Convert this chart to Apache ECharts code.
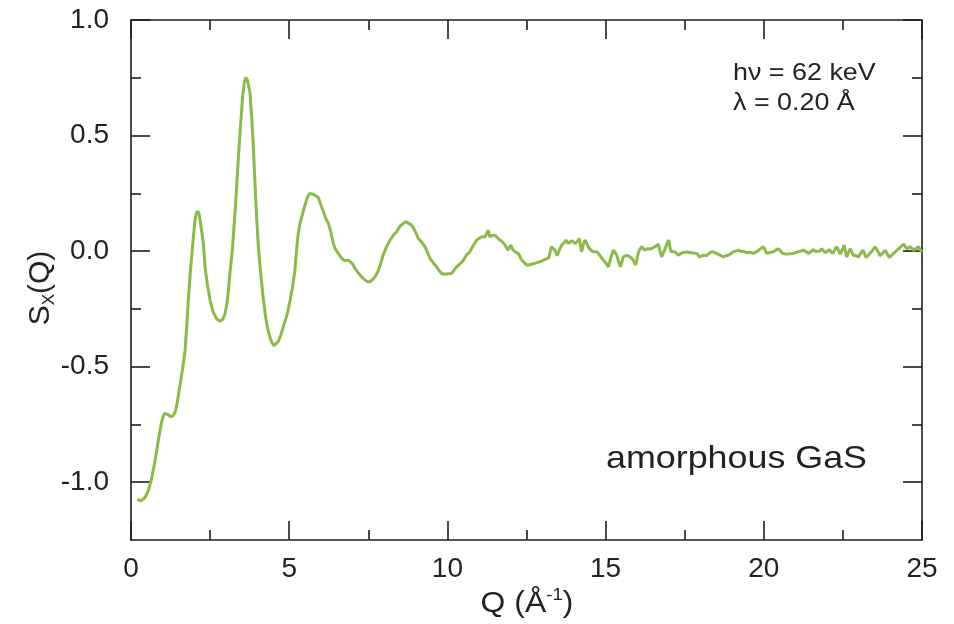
<!DOCTYPE html>
<html><head><meta charset="utf-8">
<script src="https://cdn.jsdelivr.net/npm/echarts@6/dist/echarts.min.js"></script>
<style>html,body{margin:0;padding:0;background:#fff}#c{width:954px;height:624px}</style>
</head><body><div id="c"></div>
<script>
const qValues = [
0.20,0.32,0.45,0.55,0.65,0.75,0.85,0.93,1.00,1.06,1.11,1.18,1.26,1.33,1.40,1.47,1.53,1.58,1.65,1.71,1.76,1.81,1.87,1.92,1.97,2.02,2.07,2.10,2.14,2.19,2.24,2.29,2.34,2.42,2.50,2.60,2.71,2.81,2.90,2.97,3.03,3.08,3.13,3.20,3.30,3.39,3.46,3.53,3.58,3.63,3.68,3.76,3.82,3.87,3.92,3.97,4.02,4.08,4.16,4.24,4.31,4.39,4.45,4.52,4.58,4.66,4.73,4.81,4.92,5.03,5.10,5.18,5.23,5.28,5.34,5.42,5.50,5.58,5.65,5.71,5.78,5.85,5.92,6.00,6.08,6.16,6.24,6.32,6.40,6.45,6.55,6.66,6.76,6.87,6.92,7.00,7.08,7.16,7.24,7.32,7.40,7.48,7.55,7.61,7.66,7.74,7.82,7.90,7.97,8.08,8.19,8.30,8.40,8.50,8.61,8.68,8.77,8.85,8.93,9.00,9.08,9.18,9.29,9.37,9.45,9.55,9.66,9.74,9.82,9.92,10.03,10.13,10.19,10.29,10.40,10.51,10.61,10.71,10.82,10.93,11.00,11.08,11.19,11.24,11.29,11.34,11.42,11.50,11.58,11.66,11.74,11.82,11.92,12.00,12.07,12.14,12.24,12.35,12.43,12.51,12.62,12.72,12.82,12.93,13.02,13.10,13.20,13.29,13.35,13.40,13.47,13.54,13.61,13.68,13.75,13.82,13.93,14.03,14.10,14.17,14.24,14.30,14.35,14.40,14.45,14.53,14.61,14.72,14.80,14.93,15.00,15.09,15.16,15.24,15.30,15.35,15.42,15.47,15.56,15.67,15.77,15.85,15.90,15.95,16.03,16.09,16.14,16.24,16.32,16.40,16.48,16.56,16.67,16.72,16.77,16.88,16.95,17.00,17.04,17.08,17.19,17.30,17.38,17.46,17.56,17.67,17.77,17.88,17.98,18.08,18.19,18.27,18.35,18.43,18.51,18.62,18.72,18.80,18.88,18.96,19.04,19.12,19.20,19.28,19.35,19.46,19.56,19.67,19.75,19.83,19.91,19.99,20.09,20.20,20.30,20.38,20.46,20.53,20.60,20.72,20.82,20.93,21.01,21.09,21.17,21.25,21.33,21.41,21.49,21.57,21.64,21.70,21.77,21.83,21.88,21.94,22.00,22.07,22.12,22.18,22.24,22.30,22.36,22.41,22.48,22.54,22.58,22.62,22.68,22.73,22.78,22.83,22.91,22.99,23.06,23.13,23.18,23.23,23.30,23.36,23.44,23.52,23.60,23.68,23.76,23.84,23.90,23.97,24.04,24.10,24.18,24.26,24.34,24.42,24.47,24.52,24.58,24.63,24.68,24.74,24.80,24.89,24.95,25.00
];
const sValues = [
-1.075,-1.080,-1.065,-1.035,-0.985,-0.915,-0.830,-0.765,-0.720,-0.702,-0.699,-0.708,-0.717,-0.712,-0.695,-0.648,-0.595,-0.555,-0.490,-0.430,-0.330,-0.213,-0.100,-0.020,0.060,0.130,0.170,0.178,0.168,0.130,0.080,0.030,-0.068,-0.150,-0.213,-0.265,-0.293,-0.304,-0.295,-0.271,-0.230,-0.170,-0.090,0.000,0.190,0.396,0.540,0.670,0.730,0.751,0.740,0.686,0.570,0.440,0.290,0.149,0.030,-0.068,-0.180,-0.271,-0.330,-0.372,-0.395,-0.409,-0.405,-0.390,-0.365,-0.329,-0.280,-0.213,-0.160,-0.083,0.000,0.070,0.120,0.160,0.200,0.235,0.250,0.254,0.245,0.238,0.232,0.200,0.171,0.140,0.120,0.080,0.030,0.012,-0.010,-0.032,-0.042,-0.039,-0.035,-0.055,-0.075,-0.090,-0.104,-0.115,-0.126,-0.133,-0.133,-0.128,-0.120,-0.105,-0.083,-0.050,-0.017,0.020,0.048,0.070,0.084,0.108,0.120,0.128,0.120,0.115,0.099,0.080,0.055,0.040,0.019,-0.005,-0.032,-0.050,-0.068,-0.085,-0.097,-0.100,-0.098,-0.097,-0.092,-0.068,-0.055,-0.039,-0.015,-0.003,0.025,0.048,0.055,0.062,0.062,0.075,0.091,0.062,0.068,0.070,0.058,0.048,0.040,0.026,0.004,0.026,0.005,-0.003,-0.010,-0.039,-0.050,-0.061,-0.058,-0.055,-0.050,-0.046,-0.040,-0.035,-0.030,0.019,0.015,0.004,-0.020,0.005,0.026,0.035,0.048,0.033,0.045,0.033,0.040,0.055,-0.003,0.030,0.048,0.035,0.019,0.005,-0.003,-0.003,-0.015,-0.039,-0.050,-0.068,-0.030,0.004,-0.005,-0.018,-0.050,-0.068,-0.025,-0.018,-0.025,-0.035,-0.046,-0.060,-0.010,0.010,0.019,0.004,0.010,0.009,0.013,0.019,0.030,0.000,-0.025,0.010,0.035,0.048,0.010,-0.003,-0.003,-0.018,-0.010,-0.006,-0.004,-0.006,-0.008,-0.010,-0.025,-0.018,-0.020,-0.010,-0.003,-0.005,-0.010,-0.018,-0.025,-0.020,-0.018,-0.010,-0.003,0.000,0.004,-0.002,0.000,-0.007,-0.005,-0.010,-0.004,0.003,0.012,0.019,-0.010,-0.006,-0.003,0.004,0.010,0.000,-0.010,-0.013,-0.011,-0.010,-0.006,-0.003,0.000,0.004,-0.002,-0.010,-0.002,0.006,-0.002,-0.010,0.000,0.010,0.002,-0.007,0.000,0.006,-0.002,-0.010,0.005,0.019,0.003,-0.013,0.006,0.026,0.000,-0.025,-0.005,0.010,-0.003,-0.018,-0.020,-0.025,-0.010,0.004,-0.010,-0.028,-0.018,-0.010,0.004,0.019,0.000,-0.020,-0.008,0.004,-0.012,-0.028,-0.018,-0.010,0.000,0.010,0.020,0.030,0.020,0.010,0.015,0.019,0.012,0.004,0.010,0.019,0.005,-0.003
];
const xMajorTicks = [0, 5, 10, 15, 20, 25];
const xMinorTicks = [2.5, 7.5, 12.5, 17.5, 22.5];
const yMajorTicks = [-1.0, -0.5, 0.0, 0.5, 1.0];
const yMinorTicks = [-0.75, -0.25, 0.25, 0.75];
const xTitle = 'Q (Å';
const xTitleSup = '-1';
const yTitleMain = 'S';
const yTitleSub = 'X';
const sampleLabel = 'amorphous GaS';
const noteLines = ['hν = 62 keV', 'λ = 0.20 Å'];

const FONT = '"Liberation Sans", Arial, sans-serif';
const AX = '#1e1e1e';
const GREEN = '#8cba48';

const pts = qValues.map((q, i) => [q, sValues[i]]);

function xAx(pos, ticks, len, showLabel, showLine) {
  return {
    type: 'value', position: pos, min: 0, max: 25, interval: 2.5,
    axisLine: { show: showLine, onZero: false, lineStyle: { color: AX, width: 1.6 } },
    axisTick: { show: true, inside: true, length: len, customValues: ticks, lineStyle: { color: AX, width: 1.6 } },
    axisLabel: { show: showLabel, customValues: ticks, margin: 15, color: '#222', fontSize: 28, fontFamily: FONT },
    splitLine: { show: false }
  };
}
function yAx(pos, ticks, len, showLabel, showLine) {
  return {
    type: 'value', position: pos, min: -1.25, max: 1.0, interval: 0.25,
    axisLine: { show: showLine, onZero: false, lineStyle: { color: AX, width: 1.6 } },
    axisTick: { show: true, inside: true, length: len, customValues: ticks, lineStyle: { color: AX, width: 1.6 } },
    axisLabel: { show: showLabel, customValues: ticks, margin: 22, color: '#222', fontSize: 28, fontFamily: FONT,
      formatter: v => v.toFixed(1) },
    splitLine: { show: false }
  };
}

const chart = echarts.init(document.getElementById('c'), null, { renderer: 'canvas' });
chart.setOption({
  animation: false,
  backgroundColor: '#fff',
  grid: { left: 131, right: 32, top: 20, bottom: 84, containLabel: false },
  xAxis: [
    xAx('bottom', xMajorTicks, 19, true, true),
    xAx('bottom', xMinorTicks, 10, false, false),
    xAx('top', xMajorTicks, 19, false, true),
    xAx('top', xMinorTicks, 10, false, false)
  ],
  yAxis: [
    yAx('left', yMajorTicks, 19, true, true),
    yAx('left', yMinorTicks, 10, false, false),
    yAx('right', yMajorTicks, 19, false, true),
    yAx('right', yMinorTicks, 10, false, false)
  ],
  series: [{
    type: 'line', data: pts, xAxisIndex: 0, yAxisIndex: 0,
    showSymbol: false, symbol: 'none', smooth: false,
    lineStyle: { color: GREEN, width: 3 }
  }],
  graphic: [
    { type: 'text', x: 527, y: 604, scaleX: 1.1, z: 10,
      style: { x: 0, y: 0, text: '{m|' + xTitle + '}{s|' + xTitleSup + '}{m|)}',
        textAlign: 'center', textVerticalAlign: 'middle', fill: '#222',
        rich: { m: { fontSize: 29, fontFamily: FONT, lineHeight: 34, fill: '#222' },
                s: { fontSize: 17, fontFamily: FONT, lineHeight: 18, verticalAlign: 'top', fill: '#222' } } } },
    { type: 'text', x: 41, y: 288, rotation: Math.PI / 2, z: 10,
      style: { x: 0, y: 0, text: '{m|' + yTitleMain + '}{s|' + yTitleSub + '}{m|(Q)}',
        textAlign: 'center', textVerticalAlign: 'middle', fill: '#222',
        rich: { m: { fontSize: 30, fontFamily: FONT, lineHeight: 34, fill: '#222' },
                s: { fontSize: 17, fontFamily: FONT, lineHeight: 18, verticalAlign: 'bottom', fill: '#222' } } } },
    { type: 'text', x: 606, y: 459, scaleX: 1.12, z: 10,
      style: { x: 0, y: 0, text: sampleLabel, font: '32px ' + FONT, fill: '#222',
        textAlign: 'left', textVerticalAlign: 'middle' } },
    { type: 'text', x: 733, y: 73, scaleX: 1.12, z: 10,
      style: { x: 0, y: 0, text: noteLines[0], font: '24px ' + FONT, fill: '#222',
        textAlign: 'left', textVerticalAlign: 'middle' } },
    { type: 'text', x: 733, y: 103, scaleX: 1.12, z: 10,
      style: { x: 0, y: 0, text: noteLines[1], font: '24px ' + FONT, fill: '#222',
        textAlign: 'left', textVerticalAlign: 'middle' } }
  ]
});
</script></body></html>
